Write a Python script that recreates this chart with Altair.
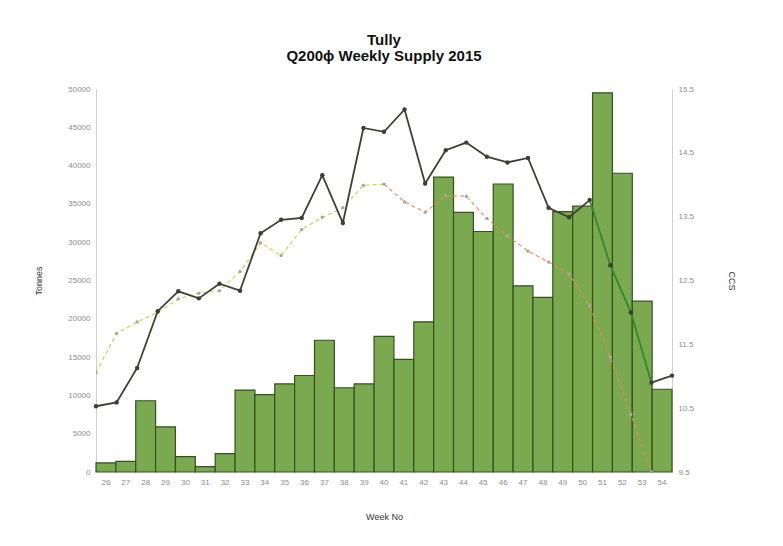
import altair as alt
import pandas as pd

weeks = list(range(26, 55))
tonnes = [1200, 1400, 9300, 5900, 2000, 700, 2400, 10700, 10100, 11500,
          12600, 17200, 11000, 11500, 17700, 14700, 19600, 38500, 33900, 31400,
          37600, 24300, 22800, 34000, 34700, 49500, 39000, 22300, 10800]
ccs_2015 = [10.53, 10.59, 11.13, 12.02, 12.33, 12.22, 12.45, 12.34, 13.24, 13.45,
            13.48, 14.15, 13.40, 14.89, 14.83, 15.18, 14.02, 14.54, 14.66, 14.44,
            14.35, 14.42, 13.64, 13.49, 13.76, 12.74, 12.00, 10.90, 11.01]
avg_weeks = list(range(26, 54))
ccs_avg = [11.06, 11.67, 11.85, 12.00, 12.21, 12.30, 12.34, 12.64, 13.09, 12.89,
           13.30, 13.49, 13.64, 13.99, 14.01, 13.73, 13.57, 13.83, 13.82, 13.47,
           13.20, 12.96, 12.79, 12.60, 12.10, 11.30, 10.40, 9.50]
ccs_ticks = [9.5, 10.5, 11.5, 12.5, 13.5, 14.5, 15.5]
tonne_ticks = list(range(0, 50001, 5000))

# segment labels for colouring the lines
main_seg = ["a" if w <= 50 else ("b" if w <= 53 else "c") for w in weeks]
bars_df = pd.DataFrame({"week": weeks, "tonnes": tonnes})

main_rows = []
for w, v, s in zip(weeks, ccs_2015, main_seg):
    main_rows.append({"week": w, "ccs": v, "seg": s})
    if w in (50, 53):  # duplicate joint point so segments connect
        main_rows.append({"week": w, "ccs": v, "seg": "b" if w == 50 else "c"})
main_df = pd.DataFrame(main_rows)

avg_rows = []
for w, v in zip(avg_weeks, ccs_avg):
    avg_rows.append({"week": w, "ccs": v, "seg": "early" if w <= 40 else "late"})
    if w == 40:
        avg_rows.append({"week": w, "ccs": v, "seg": "late"})
avg_df = pd.DataFrame(avg_rows)

bars = alt.Chart(bars_df).mark_bar(
    fill="#7aa950", stroke="#34511e", strokeWidth=1.2
).encode(
    x=alt.X("week:O", title="Week No",
            scale=alt.Scale(paddingInner=0, paddingOuter=0),
            axis=alt.Axis(labelAngle=0, labelPadding=6, titlePadding=26,
                          domain=False)),
    y=alt.Y("tonnes:Q", title="Tonnes",
            scale=alt.Scale(domain=[0, 50000], nice=False),
            axis=alt.Axis(values=tonne_ticks, format="d",
                          labelPadding=6, titlePadding=24)),
)

xq = alt.X("week:Q", scale=alt.Scale(domain=[26, 54], nice=False, zero=False),
           axis=None)
yq = alt.Y("ccs:Q", title="CCS",
           scale=alt.Scale(domain=[9.5, 15.5], nice=False, zero=False),
           axis=alt.Axis(orient="right", values=ccs_ticks,
                         format=".1f", labelPadding=6, titlePadding=33))

avg_line = alt.Chart(avg_df).mark_line(strokeWidth=1.1, strokeDash=[4, 3], clip=True).encode(
    x=xq, y=yq,
    color=alt.Color("seg:N", scale=alt.Scale(domain=["early", "late"],
                                             range=["#c8cf45", "#e8875c"]), legend=None),
)
avg_pts = alt.Chart(pd.DataFrame({"week": avg_weeks, "ccs": ccs_avg})).mark_point(
    filled=True, size=12, color="#a9a9a0", opacity=1, clip=True
).encode(x=xq, y=yq)

main_line = alt.Chart(main_df).mark_line(strokeWidth=1.8).encode(
    x=xq, y=yq,
    color=alt.Color("seg:N", scale=alt.Scale(domain=["a", "b", "c"],
                                             range=["#3d4034", "#2f8a2f", "#3d4034"]), legend=None),
)
main_pts = alt.Chart(pd.DataFrame({"week": weeks, "ccs": ccs_2015})).mark_point(
    filled=True, size=20, color="#3d4034", opacity=1
).encode(x=xq, y=yq)

lines = alt.layer(avg_line, avg_pts, main_line, main_pts).resolve_scale(color="independent")

chart = alt.layer(bars, lines).resolve_scale(
    x="independent", y="independent", color="independent"
).properties(
    width=576, height=383,
    autosize=alt.AutoSizeParams(type="none"),
    padding={"left": 88, "top": 81, "right": 100, "bottom": 55},
    background="white",
    title=alt.Title(["Tully", "Q200ɸ Weekly Supply 2015"], fontSize=15,
                    fontWeight="bold", font="Liberation Sans", color="#111",
                    anchor="middle", offset=21, lineHeight=16),
).configure_view(stroke=None).configure_axis(
    labelFont="Liberation Sans", labelFontSize=8, labelColor="#8c8c8c",
    titleFont="Liberation Sans", titleFontSize=9, titleFontWeight="normal",
    titleColor="#333", domainColor="#cfcfcf", ticks=False, grid=False,
)

chart.save("out.html", embed_options={"renderer": "svg", "actions": False})
